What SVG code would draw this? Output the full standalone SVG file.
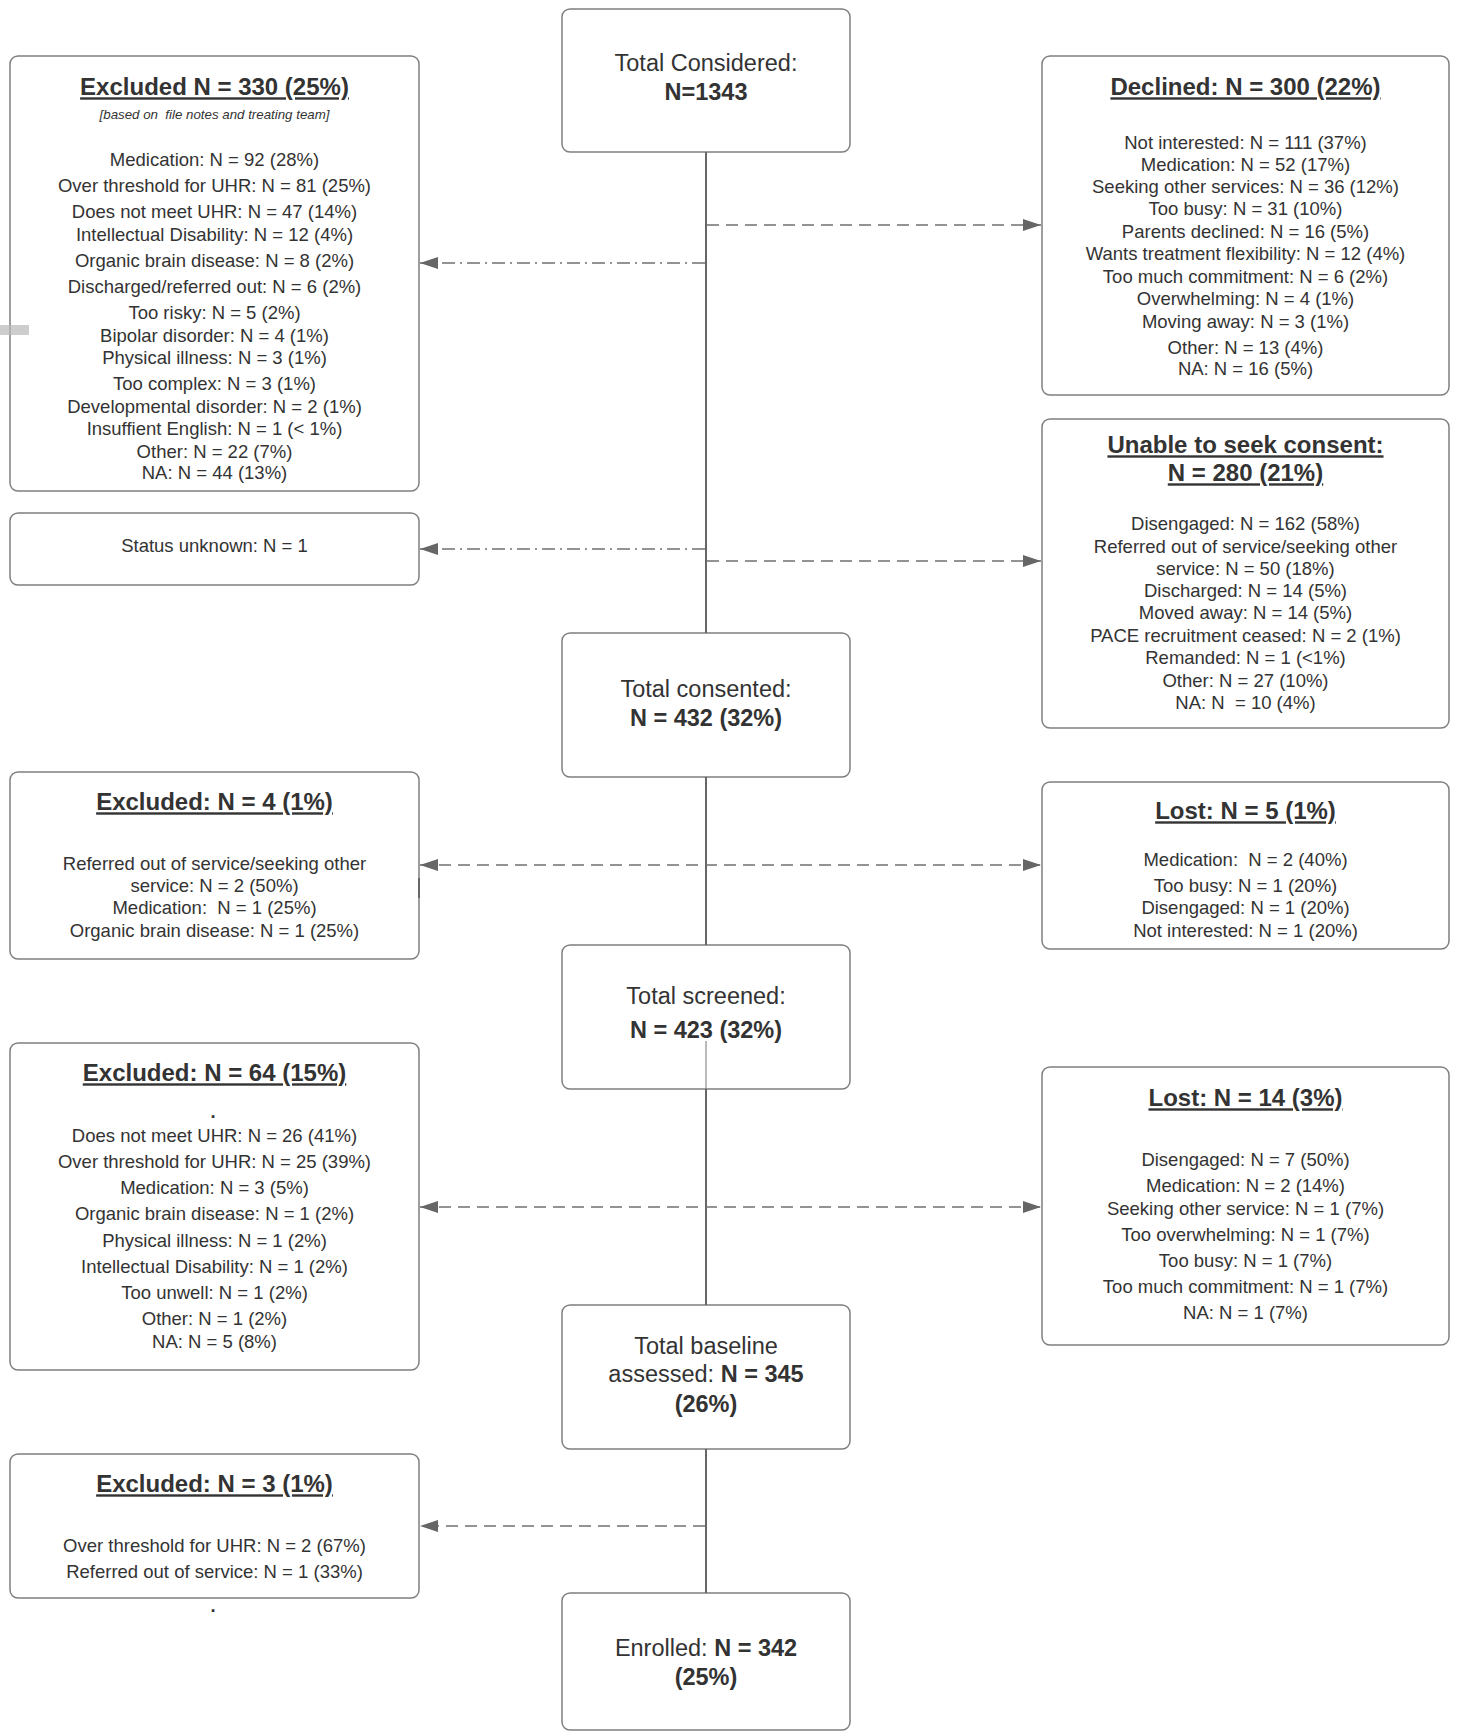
<svg xmlns="http://www.w3.org/2000/svg" width="1457" height="1732" viewBox="0 0 1457 1732">
<style>
.box{fill:#fff;stroke:#7f7f7f;stroke-width:1.5}
text{font-family:"Liberation Sans",Arial,sans-serif;fill:#333;text-anchor:middle}
.t{font-size:18.5px}
.h{font-size:24px;font-weight:bold;text-decoration:underline}
.m{font-size:23.5px}
.b{font-weight:bold}
.sub{font-size:13.3px;font-style:italic}
.v{stroke:#666;stroke-width:2;fill:none}
.dash{stroke:#707070;stroke-width:1.5;stroke-dasharray:12 7;fill:none}
.dd{stroke:#707070;stroke-width:1.5;stroke-dasharray:13 5 2 5;fill:none}
</style>
<defs>
<marker id="arr" markerUnits="userSpaceOnUse" markerWidth="19" markerHeight="13" refX="18" refY="6.5" orient="auto-start-reverse" viewBox="0 0 19 13">
<path d="M0,0.5 L18,6.5 L0,12.5 Z" fill="#666"/>
</marker>
</defs>

<g id="n-considered">
<rect class="box" x="562" y="9" width="288" height="143" rx="8"/>
<text class="m" x="706" y="71">Total Considered:</text>
<text class="m b" x="706" y="100">N=1343</text>
</g>

<g id="n-excl330">
<rect class="box" x="10" y="56" width="409" height="435" rx="8"/>
<text class="h" x="214.5" y="95.3">Excluded N = 330 (25%)</text>
<text class="sub" x="214.5" y="118.6">[based on&#160; file notes and treating team]</text>
<text class="t" x="214.5" y="166.4">Medication: N = 92 (28%)</text>
<text class="t" x="214.5" y="192.4">Over threshold for UHR: N = 81 (25%)</text>
<text class="t" x="214.5" y="218.4">Does not meet UHR: N = 47 (14%)</text>
<text class="t" x="214.5" y="241.4">Intellectual Disability: N = 12 (4%)</text>
<text class="t" x="214.5" y="267.4">Organic brain disease: N = 8 (2%)</text>
<text class="t" x="214.5" y="293.4">Discharged/referred out: N = 6 (2%)</text>
<text class="t" x="214.5" y="319.4">Too risky: N = 5 (2%)</text>
<text class="t" x="214.5" y="342.4">Bipolar disorder: N = 4 (1%)</text>
<text class="t" x="214.5" y="364.4">Physical illness: N = 3 (1%)</text>
<text class="t" x="214.5" y="390.4">Too complex: N = 3 (1%)</text>
<text class="t" x="214.5" y="413.4">Developmental disorder: N = 2 (1%)</text>
<text class="t" x="214.5" y="435.4">Insuffient English: N = 1 (&lt; 1%)</text>
<text class="t" x="214.5" y="458.4">Other: N = 22 (7%)</text>
<text class="t" x="214.5" y="479.4">NA: N = 44 (13%)</text>
</g>

<g id="n-declined">
<rect class="box" x="1042" y="56" width="407" height="339" rx="8"/>
<text class="h" x="1245.5" y="95.3">Declined: N = 300 (22%)</text>
<text class="t" x="1245.5" y="149.4">Not interested: N = 111 (37%)</text>
<text class="t" x="1245.5" y="171.4">Medication: N = 52 (17%)</text>
<text class="t" x="1245.5" y="193.4">Seeking other services: N = 36 (12%)</text>
<text class="t" x="1245.5" y="215.4">Too busy: N = 31 (10%)</text>
<text class="t" x="1245.5" y="238.4">Parents declined: N = 16 (5%)</text>
<text class="t" x="1245.5" y="260.4">Wants treatment flexibility: N = 12 (4%)</text>
<text class="t" x="1245.5" y="283.4">Too much commitment: N = 6 (2%)</text>
<text class="t" x="1245.5" y="305.4">Overwhelming: N = 4 (1%)</text>
<text class="t" x="1245.5" y="328.4">Moving away: N = 3 (1%)</text>
<text class="t" x="1245.5" y="354.4">Other: N = 13 (4%)</text>
<text class="t" x="1245.5" y="375.4">NA: N = 16 (5%)</text>
</g>

<g id="n-unable">
<rect class="box" x="1042" y="419" width="407" height="309" rx="8"/>
<text class="h" x="1245.5" y="453.3">Unable to seek consent:</text>
<text class="h" x="1245.5" y="481.3">N = 280 (21%)</text>
<text class="t" x="1245.5" y="530.4">Disengaged: N = 162 (58%)</text>
<text class="t" x="1245.5" y="553.4">Referred out of service/seeking other</text>
<text class="t" x="1245.5" y="575.4">service: N = 50 (18%)</text>
<text class="t" x="1245.5" y="597.4">Discharged: N = 14 (5%)</text>
<text class="t" x="1245.5" y="619.4">Moved away: N = 14 (5%)</text>
<text class="t" x="1245.5" y="642.4">PACE recruitment ceased: N = 2 (1%)</text>
<text class="t" x="1245.5" y="664.4">Remanded: N = 1 (&lt;1%)</text>
<text class="t" x="1245.5" y="687.4">Other: N = 27 (10%)</text>
<text class="t" x="1245.5" y="709.4">NA: N&#160; = 10 (4%)</text>
</g>

<g id="n-status">
<rect class="box" x="10" y="513" width="409" height="72" rx="8"/>
<text class="t" x="214.5" y="552.4">Status unknown: N = 1</text>
</g>

<g id="n-consented">
<rect class="box" x="562" y="633" width="288" height="144" rx="8"/>
<text class="m" x="706" y="697">Total consented:</text>
<text class="m b" x="706" y="726">N = 432 (32%)</text>
</g>

<g id="n-excl4">
<rect class="box" x="10" y="772" width="409" height="187" rx="8"/>
<line x1="419" y1="878" x2="419" y2="898" stroke="#555" stroke-width="1.5"/>
<text class="h" x="214.5" y="810.3">Excluded: N = 4 (1%)</text>
<text class="t" x="214.5" y="870.4">Referred out of service/seeking other</text>
<text class="t" x="214.5" y="892.4">service: N = 2 (50%)</text>
<text class="t" x="214.5" y="914.4">Medication:&#160; N = 1 (25%)</text>
<text class="t" x="214.5" y="937.4">Organic brain disease: N = 1 (25%)</text>
</g>

<g id="n-lost5">
<rect class="box" x="1042" y="782" width="407" height="167" rx="8"/>
<text class="h" x="1245.5" y="819.3">Lost: N = 5 (1%)</text>
<text class="t" x="1245.5" y="866.4">Medication:&#160; N = 2 (40%)</text>
<text class="t" x="1245.5" y="892.4">Too busy: N = 1 (20%)</text>
<text class="t" x="1245.5" y="914.4">Disengaged: N = 1 (20%)</text>
<text class="t" x="1245.5" y="937.4">Not interested: N = 1 (20%)</text>
</g>

<g id="n-screened">
<rect class="box" x="562" y="945" width="288" height="144" rx="8"/>
<text class="m" x="706" y="1004">Total screened:</text>
<text class="m b" x="706" y="1038">N = 423 (32%)</text>
</g>

<g id="n-excl64">
<rect class="box" x="10" y="1043" width="409" height="327" rx="8"/>
<text class="h" x="214.5" y="1081.3">Excluded: N = 64 (15%)</text>
<text class="t b" x="213" y="1118" fill="#222">.</text>
<text class="t" x="214.5" y="1142.4">Does not meet UHR: N = 26 (41%)</text>
<text class="t" x="214.5" y="1168.4">Over threshold for UHR: N = 25 (39%)</text>
<text class="t" x="214.5" y="1194.4">Medication: N = 3 (5%)</text>
<text class="t" x="214.5" y="1220.4">Organic brain disease: N = 1 (2%)</text>
<text class="t" x="214.5" y="1247.4">Physical illness: N = 1 (2%)</text>
<text class="t" x="214.5" y="1273.4">Intellectual Disability: N = 1 (2%)</text>
<text class="t" x="214.5" y="1299.4">Too unwell: N = 1 (2%)</text>
<text class="t" x="214.5" y="1325.4">Other: N = 1 (2%)</text>
<text class="t" x="214.5" y="1348.4">NA: N = 5 (8%)</text>
</g>

<g id="n-lost14">
<rect class="box" x="1042" y="1067" width="407" height="278" rx="8"/>
<text class="h" x="1245.5" y="1106.3">Lost: N = 14 (3%)</text>
<text class="t" x="1245.5" y="1166.4">Disengaged: N = 7 (50%)</text>
<text class="t" x="1245.5" y="1192.4">Medication: N = 2 (14%)</text>
<text class="t" x="1245.5" y="1215.4">Seeking other service: N = 1 (7%)</text>
<text class="t" x="1245.5" y="1241.4">Too overwhelming: N = 1 (7%)</text>
<text class="t" x="1245.5" y="1267.4">Too busy: N = 1 (7%)</text>
<text class="t" x="1245.5" y="1293.4">Too much commitment: N = 1 (7%)</text>
<text class="t" x="1245.5" y="1319.4">NA: N = 1 (7%)</text>
</g>

<g id="n-baseline">
<rect class="box" x="562" y="1305" width="288" height="144" rx="8"/>
<text class="m" x="706" y="1354">Total baseline</text>
<text class="m" x="706" y="1382">assessed: <tspan class="b">N = 345</tspan></text>
<text class="m b" x="706" y="1412">(26%)</text>
</g>

<g id="n-excl3">
<rect class="box" x="10" y="1454" width="409" height="144" rx="8"/>
<text class="h" x="214.5" y="1492.3">Excluded: N = 3 (1%)</text>
<text class="t" x="214.5" y="1552.4">Over threshold for UHR: N = 2 (67%)</text>
<text class="t" x="214.5" y="1578.4">Referred out of service: N = 1 (33%)</text>
<text class="t b" x="213" y="1612" fill="#222">.</text>
</g>

<g id="n-enrolled">
<rect class="box" x="562" y="1593" width="288" height="137" rx="8"/>
<text class="m" x="706" y="1656">Enrolled: <tspan class="b">N = 342</tspan></text>
<text class="m b" x="706" y="1685">(25%)</text>
</g>

<g id="connectors">
<line class="v" x1="706" y1="152" x2="706" y2="633"/>
<line class="v" x1="706" y1="777" x2="706" y2="945"/>
<line x1="706" y1="1041" x2="706" y2="1089" stroke="#777" stroke-width="1"/>
<line class="v" x1="706" y1="1089" x2="706" y2="1305"/>
<line class="v" x1="706" y1="1449" x2="706" y2="1593"/>
<line class="dash" x1="707" y1="225" x2="1041" y2="225" marker-end="url(#arr)"/>
<line class="dd" x1="705" y1="263" x2="420" y2="263" marker-end="url(#arr)"/>
<line class="dd" x1="705" y1="549" x2="420" y2="549" marker-end="url(#arr)"/>
<line class="dash" x1="707" y1="561" x2="1041" y2="561" marker-end="url(#arr)"/>
<line class="dash" x1="420" y1="865" x2="1041" y2="865" marker-start="url(#arr)" marker-end="url(#arr)"/>
<line class="dash" x1="420" y1="1207" x2="1041" y2="1207" marker-start="url(#arr)" marker-end="url(#arr)"/>
<line class="dash" x1="705" y1="1526" x2="420" y2="1526" marker-end="url(#arr)"/>
</g>
<rect x="0" y="325" width="29" height="10" fill="#b8b8b8" fill-opacity="0.7"/>
</svg>
